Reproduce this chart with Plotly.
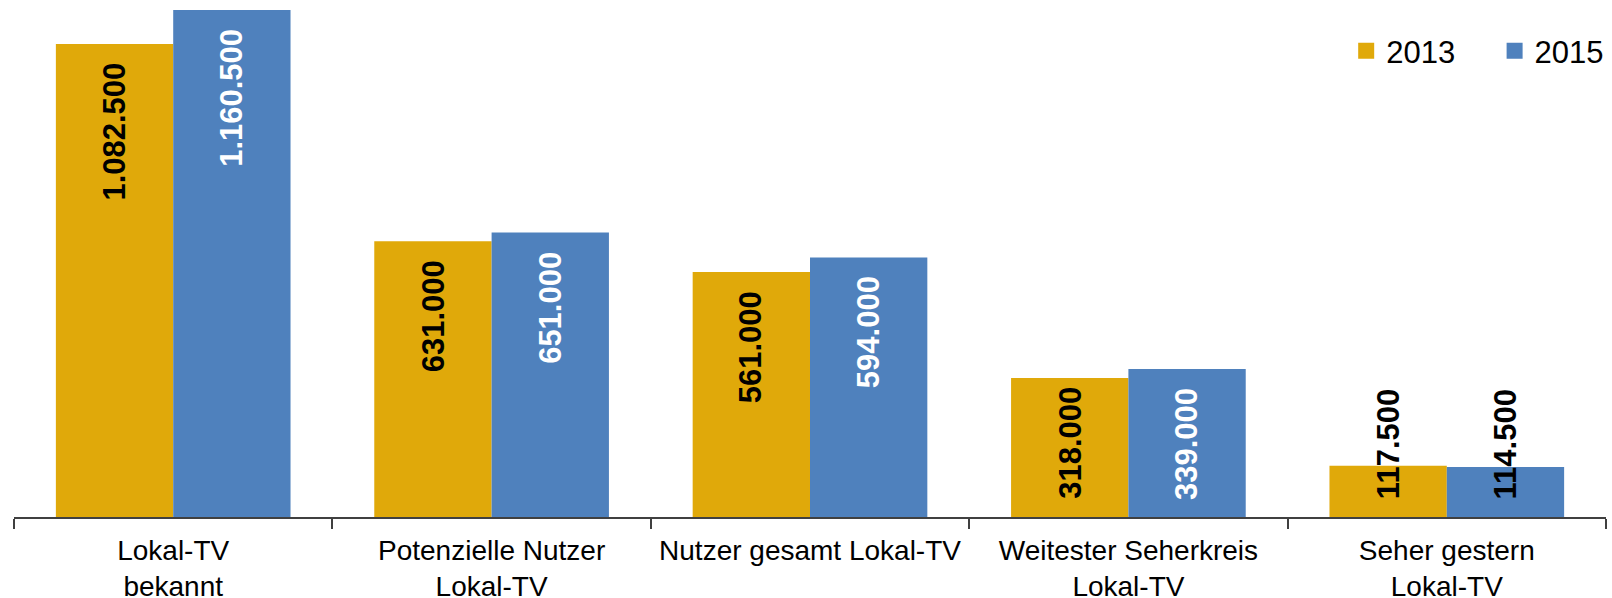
import plotly.graph_objects as go

categories = ["Lokal-TV<br>bekannt", "Potenzielle Nutzer<br>Lokal-TV", "Nutzer gesamt Lokal-TV",
              "Weitester Seherkreis<br>Lokal-TV", "Seher gestern<br>Lokal-TV"]
series_names = ["2013", "2015"]
values_2013 = [1082500, 631000, 561000, 318000, 117500]
values_2015 = [1160500, 651000, 594000, 339000, 114500]

colors = {"2013": "#E0A90A", "2015": "#4F81BD"}
label_colors = {"2013": "black", "2015": "white"}

W, H = 1612, 598
m_l, m_r, m_t, m_b = 14, 3, 6, 81
plot_h = H - m_t - m_b
y_max = 1169640
px_per_unit = plot_h / y_max
bargap = 0.263
offset = (1 - bargap) / 4
label_font = 31
label_pad_top = 17
label_pad_base = 16
FONT = "Liberation Sans, Arial, sans-serif"


def fmt(v):
    return f"{v:,}".replace(",", ".")


def text_len(s):
    return sum(0.278 if c == "." else 0.556 for c in s) * label_font


fig = go.Figure()
series = {"2013": values_2013, "2015": values_2015}
for k, name in enumerate(series_names):
    fig.add_trace(go.Bar(
        x=categories, y=series[name], name=name,
        marker=dict(color=colors[name], line=dict(width=0)),
        showlegend=False, hoverinfo="y",
    ))
for k, name in enumerate(series_names):
    pad = "\u00a0" * 4 if k < len(series_names) - 1 else ""
    fig.add_trace(go.Scatter(
        x=[None], y=[None], mode="markers", name=name + pad,
        marker=dict(symbol="square", size=16, color=colors[name]),
    ))

annotations = []
for k, name in enumerate(series_names):
    sign = -1 if k == 0 else 1
    for i, v in enumerate(series[name]):
        s = fmt(v)
        bar_px = v * px_per_unit
        tl = text_len(s)
        fits = bar_px - label_pad_top - tl >= label_pad_base
        if fits:
            ann = dict(y=v, yanchor="top", yshift=-label_pad_top)
            col = label_colors[name]
        else:
            ann = dict(y=0, yanchor="bottom", yshift=label_pad_base)
            col = label_colors[name] if (tl + label_pad_base) <= bar_px else "black"
        ann.update(dict(
            x=i + sign * offset, xref="x", yref="y", text=f"<b>{s}</b>", showarrow=False,
            textangle=-90, xanchor="center",
            font=dict(family=FONT, size=label_font, color=col),
        ))
        annotations.append(ann)

fig.update_layout(
    width=W, height=H,
    margin=dict(l=m_l, r=m_r, t=m_t, b=m_b),
    paper_bgcolor="white", plot_bgcolor="white",
    barmode="group", bargap=bargap, bargroupgap=0,
    font=dict(family=FONT, color="black"),
    xaxis=dict(
        type="category", tickson="boundaries", automargin=False,
        showline=True, linecolor="#404040", linewidth=2,
        ticks="outside", ticklen=10, tickwidth=2, tickcolor="#404040",
        ticklabelstandoff=7,
        tickfont=dict(size=28, color="black"), showgrid=False, zeroline=False,
    ),
    yaxis=dict(range=[0, y_max], visible=False, showgrid=False, zeroline=False),
    legend=dict(orientation="h", x=1.002, xanchor="right", y=0.9648, yanchor="top",
                font=dict(size=31, color="black"), bgcolor="rgba(0,0,0,0)",
                itemclick=False),
    annotations=annotations,
)

fig.write_html("out.html", config={"displayModeBar": False},
               post_script="document.body.style.margin='0px';document.body.style.overflow='hidden';")
